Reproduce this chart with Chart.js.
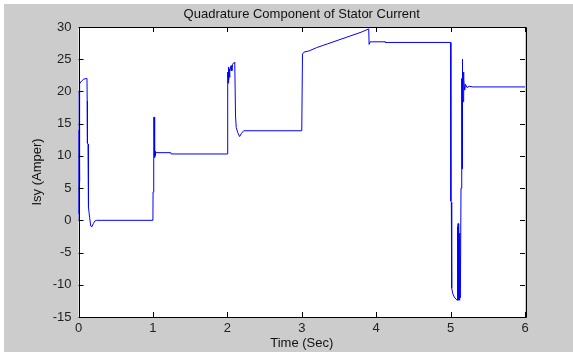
<!DOCTYPE html>
<html>
<head>
<meta charset="utf-8">
<script src="https://cdn.jsdelivr.net/npm/chart.js@4/dist/chart.umd.min.js"></script>
<style>
  html, body { margin: 0; padding: 0; background: #fff; }
  #wrap { width: 573px; height: 356px; }
</style>
</head>
<body>
<div id="wrap"><canvas id="myChart" width="573" height="356"></canvas></div>
<script>
    // stator current, quadrature axis (A) vs time (s)
    const timeSec = [
        0, 0.003, 0.005, 0.008, 0.011, 0.014, 0.02, 0.04, 0.07, 0.1, 0.114,
        0.117, 0.12, 0.128, 0.134, 0.15, 0.165, 0.18, 0.2, 0.22, 0.24, 1.0,
        1.002, 1.01, 1.012, 1.018, 1.02, 1.022, 1.024, 1.026, 1.028, 1.03, 1.035, 1.04, 1.24, 1.245, 2.0,
        2.005, 2.01, 2.015, 2.02, 2.025, 2.03, 2.035, 2.05, 2.06, 2.07, 2.09, 2.1,
        2.11, 2.12, 2.14, 2.165, 2.19, 2.22, 3.0,
        3.01, 3.03, 3.1, 3.2, 3.35, 3.5, 3.65, 3.8, 3.9, 3.905, 3.92, 3.95, 4.12, 4.125, 5.0,
        5.004, 5.01, 5.015, 5.03, 5.05, 5.07, 5.09,
        5.095, 5.098, 5.101, 5.104, 5.107, 5.11, 5.113, 5.116, 5.119, 5.122, 5.125, 5.128,
        5.132, 5.14, 5.148, 5.15, 5.152, 5.154, 5.156, 5.158, 5.16, 5.162,
        5.165, 5.168, 5.172, 5.176, 5.18, 5.19, 5.2, 5.22, 5.25, 5.3, 6.0
    ];
    const isyAmp = [
        0, 14, 1, 20, 6, 20.5, 21.2, 21.6, 21.9, 22, 22,
        18.5, 12, 11.8, 2, 0.4, -0.9, -1, -0.5, -0.1, 0, 0,
        4.4, 4.5, 16, 16, 10.5, 11.2, 9.7, 11, 10, 10.7, 10.4, 10.5, 10.5, 10.3, 10.3,
        23, 21.3, 23.8, 21.8, 23.5, 22.2, 23.2, 24, 23.2, 24.2, 24.5, 24.4,
        16.2, 14.4, 13.6, 13, 13.5, 13.9, 13.9,
        25.8, 26.1, 26.3, 26.8, 27.4, 28, 28.6, 29.2, 29.7, 27.3, 27.7, 27.7, 27.7, 27.6, 27.6,
        3, 2.8, -10.5, -11.4, -11.9, -12.2, -12.4,
        -1, -12.3, -0.5, -12, -3, -12.4, -1.5, -12.2, -5, -12.4, -2, -12,
        -11, 5, 17.5, 6, 22, 8, 25, 10, 23.5, 12,
        21.5, 18.4, 23, 19.5, 21.8, 20.2, 21.1, 20.6, 20.8, 20.7, 20.7
    ];
    const xTicks = [0, 1, 2, 3, 4, 5, 6];
    const yTicks = [-15, -10, -5, 0, 5, 10, 15, 20, 25, 30];

    const points = timeSec.map((t, i) => ({ x: t, y: isyAmp[i] }));
    const fontBase = { family: "'Liberation Sans', Arial, sans-serif", size: 13 };

    // grey figure background, white axes, black box with inward ticks, title
    const matlabFrame = {
        id: 'matlabFrame',
        beforeDraw(chart) {
            const { ctx, chartArea: a } = chart;
            ctx.save();
            ctx.fillStyle = '#fff';
            ctx.fillRect(0, 0, chart.width, chart.height);
            ctx.fillStyle = '#cccccc';
            ctx.fillRect(4, 4, chart.width - 4, chart.height - 8);
            ctx.fillStyle = '#fff';
            ctx.fillRect(a.left, a.top, a.right - a.left, a.bottom - a.top);
            ctx.restore();
        },
        afterDatasetsDraw(chart) {
            const { ctx, chartArea: a, scales } = chart;
            const len = 5;
            ctx.save();
            ctx.strokeStyle = '#000';
            ctx.lineWidth = 1;
            ctx.beginPath();
            ctx.rect(Math.round(a.left) + 0.5, Math.round(a.top) + 0.5,
                Math.round(a.right - a.left), Math.round(a.bottom - a.top));
            xTicks.forEach(v => {
                const px = Math.round(scales.x.getPixelForValue(v)) + 0.5;
                ctx.moveTo(px, a.bottom); ctx.lineTo(px, a.bottom - len);
                ctx.moveTo(px, a.top); ctx.lineTo(px, a.top + len);
            });
            yTicks.forEach(v => {
                const py = Math.round(scales.y.getPixelForValue(v)) + 0.5;
                ctx.moveTo(a.left, py); ctx.lineTo(a.left + len, py);
                ctx.moveTo(a.right, py); ctx.lineTo(a.right - len, py);
            });
            ctx.stroke();

            ctx.fillStyle = '#111';
            ctx.font = '13px ' + fontBase.family;
            ctx.textAlign = 'center';
            ctx.textBaseline = 'middle';
            ctx.fillText('Quadrature Component of Stator Current', (a.left + a.right) / 2, 14);
            ctx.restore();
        }
    };

    const data = {
        datasets: [{
            label: 'Isy',
            data: points,
            borderColor: 'rgb(0, 0, 255)',
            borderWidth: 1,
            pointRadius: 0,
            tension: 0,
            fill: false
        }]
    };

    const config = {
        type: 'line',
        data: data,
        options: {
            responsive: false,
            animation: false,
            layout: { padding: { top: 27, right: 48, left: 0, bottom: 0 } },
            plugins: { legend: { display: false }, tooltip: { enabled: false } },
            scales: {
                x: {
                    type: 'linear',
                    min: 0, max: 6,
                    afterFit: s => { s.height = 39; },
                    afterBuildTicks: s => { s.ticks = xTicks.map(v => ({ value: v })); },
                    grid: { display: false, drawTicks: false },
                    border: { display: false },
                    ticks: { padding: 4, color: '#222', font: fontBase, maxRotation: 0 },
                    title: { display: true, text: 'Time (Sec)', color: '#111', font: fontBase, padding: { top: 0, bottom: 5 } }
                },
                y: {
                    min: -15, max: 30,
                    afterFit: s => { s.width = 78.5; },
                    afterBuildTicks: s => { s.ticks = yTicks.map(v => ({ value: v })); },
                    grid: { display: false, drawTicks: false },
                    border: { display: false },
                    ticks: { padding: 7, color: '#222', font: fontBase },
                    title: { display: true, text: 'Isy (Amper)', color: '#111', font: fontBase, padding: { top: 30, bottom: 0 } }
                }
            }
        },
        plugins: [matlabFrame]
    };

    const myChart = new Chart(document.getElementById('myChart'), config);
</script>
</body>
</html>
